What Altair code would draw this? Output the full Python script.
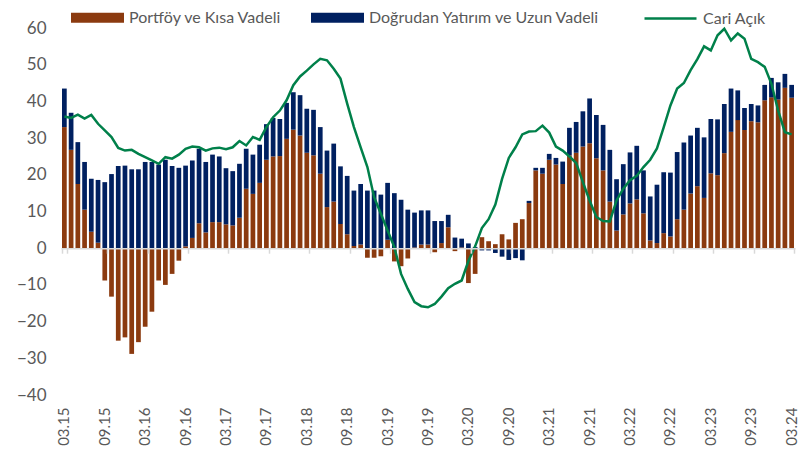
import altair as alt
import pandas as pd

# Monthly categories 03.15 ... 03.24
MONTHS = [f"{m:02d}.{y:02d}" for y in range(15, 25) for m in range(1, 13)][2:111]

TICK_LABELS = ["03.15", "09.15", "03.16", "09.16", "03.17", "09.17", "03.18",
               "09.18", "03.19", "09.19", "03.20", "09.20", "03.21", "09.21",
               "03.22", "09.22", "03.23", "09.23", "03.24"]

Y_TICKS = [-40, -30, -20, -10, 0, 10, 20, 30, 40, 50, 60]

SERIES = ["Portföy ve Kısa Vadeli", "Doğrudan Yatırım ve Uzun Vadeli"]
LINE_NAME = "Cari Açık"

PORTFOY = [
    33.0, 26.8, 17.5, 10.5, 4.5, 1.5, -8.8, -13.2, -25.2, -24.3, -28.8, -25.6,
    -21.4, -17.3, -8.8, -10.0, -7.0, -3.4, 0.5, 2.8, 6.8, 4.3, 7.1, 7.1,
    6.5, 6.2, 8.3, 16.2, 14.8, 17.8, 24.1, 25.0, 25.1, 29.8, 32.3, 30.7,
    26.0, 25.3, 20.3, 11.2, 12.7, 6.6, 3.8, 0.6, 1.0, -2.6, -2.6, -2.2,
    2.3, -3.6, -4.9, -2.8, 0.2, 1.0, 1.0, -1.1, 1.4, 5.7, -0.8, 0.2,
    -9.5, -7.0, 3.0, 1.9, 1.1, 3.8, 2.4, 6.9, 7.9, 12.3, 21.2, 20.3,
    24.1, 22.8, 17.5, 25.3, 26.0, 27.7, 28.6, 24.5, 21.2, 12.7, 4.8, 9.2,
    12.2, 13.3, 9.5, 2.1, 1.4, 4.1, 3.2, 7.9, 10.5, 14.9, 16.9, 13.7,
    20.4, 19.9, 25.9, 31.7, 34.9, 32.2, 34.6, 34.3, 40.3, 41.1, 40.5, 43.7,
    41.0,
]

DOGRUDAN = [
    10.5, 10.1, 11.4, 13.0, 14.4, 17.1, 18.0, 20.2, 22.4, 22.5, 21.5, 21.5,
    23.5, 23.5, 22.8, 24.1, 22.4, 21.9, 22.0, 21.1, 20.3, 19.2, 18.4, 17.9,
    15.3, 14.8, 14.7, 10.9, 10.7, 10.4, 9.7, 10.5, 10.1, 9.8, 10.2, 11.0,
    12.0, 12.4, 12.7, 15.4, 15.8, 15.7, 15.9, 15.1, 16.5, 15.7, 15.7, 14.6,
    15.5, 15.0, 13.2, 10.5, 9.5, 9.3, 9.3, 7.4, 6.0, 3.4, 2.9, 2.4,
    1.3, 0.3, -0.6, -0.6, -1.3, -2.3, -3.2, -2.7, -3.3, 0.6, 0.7, 1.6,
    1.6, 1.8, 6.1, 7.5, 8.4, 9.6, 12.2, 11.8, 12.4, 14.1, 14.0, 13.7,
    13.9, 14.6, 11.7, 12.0, 15.9, 16.6, 17.4, 18.3, 18.3, 15.8, 15.9, 16.5,
    14.8, 15.2, 13.4, 11.8, 8.1, 6.0, 4.7, 4.6, 4.2, 5.3, 4.7, 3.8,
    3.5,
]

CARI = [
    35.9, 35.5, 36.4, 35.3, 36.3, 33.9, 32.1, 30.3, 27.3, 26.6, 26.8, 25.7,
    24.8, 23.9, 23.0, 24.8, 24.4, 25.5, 27.1, 27.7, 27.5, 26.6, 27.2, 27.4,
    27.0, 27.5, 29.2, 28.0, 30.3, 29.5, 33.0, 35.7, 37.5, 40.3, 44.4, 46.8,
    48.4, 50.1, 51.6, 51.2, 48.9, 46.2, 39.4, 33.0, 27.5, 22.1, 13.9, 9.4,
    4.8, 0.3, -7.0, -11.1, -14.7, -15.8, -16.1, -15.2, -13.2, -10.9, -9.7, -8.8,
    -3.5, 0.5, 5.5, 7.9, 11.9, 18.9, 24.6, 27.5, 31.0, 31.8, 31.9, 33.4,
    31.5, 27.7, 26.6, 25.0, 23.2, 18.0, 13.0, 8.5, 7.4, 7.3, 13.0, 16.2,
    18.5, 19.7, 22.1, 24.1, 27.2, 32.9, 38.9, 43.5, 45.0, 48.5, 51.5, 55.0,
    53.9, 58.0, 59.8, 56.6, 58.5, 57.1, 51.6, 50.7, 49.4, 44.8, 37.5, 31.6,
    31.0,
]

n = len(MONTHS)
bars_df = pd.DataFrame({
    "month": MONTHS * 2,
    "value": PORTFOY + DOGRUDAN,
    "series": [SERIES[0]] * n + [SERIES[1]] * n,
    "ord": [0] * n + [1] * n,
})
line_df = pd.DataFrame({"month": MONTHS, "value": CARI, "series": [LINE_NAME] * n})

FONT = "Lato"
TXT = "#595959"
W, H = 734, 367

x_scale = alt.Scale(domain=MONTHS, paddingInner=0.3, paddingOuter=0.15)
y_scale = alt.Scale(domain=[-40, 60], nice=False)

y_axis = alt.Axis(title=None, values=Y_TICKS, grid=False, domain=False,
                  ticks=False, labelFontSize=17, labelColor=TXT,
                  labelPadding=15, labelFont=FONT)

bars = alt.Chart(bars_df).mark_bar().encode(
    x=alt.X("month:O", scale=x_scale, axis=alt.Axis(
        title=None, orient="bottom", offset=-H * 0.4, values=TICK_LABELS,
        labels=False, domainColor="#D9D9D9", domainWidth=1.5,
        tickColor="#D9D9D9", tickSize=5, tickWidth=1.5, tickBand="extent",
        zindex=1)),
    y=alt.Y("value:Q", scale=y_scale, stack="zero", axis=y_axis),
    color=alt.Color("series:N", scale=alt.Scale(domain=SERIES, range=["#8B3A0F", "#002060"]),
                    legend=alt.Legend(
                        title=None, orient="none", legendX=10, legendY=-37,
                        direction="horizontal",
                        symbolType="M-1,-0.19L1,-0.19L1,0.19L-1,0.19Z",
                        symbolSize=2809, symbolStrokeWidth=0, symbolOpacity=1,
                        labelFontSize=16, labelColor=TXT, labelFont=FONT,
                        labelOffset=5, columnPadding=29, labelLimit=400, padding=0)),
    order=alt.Order("ord:Q"),
)

line = alt.Chart(line_df).mark_line(strokeWidth=2.5).encode(
    x=alt.X("month:O", scale=x_scale, axis=alt.Axis(
        title=None, orient="bottom", values=TICK_LABELS, labelAngle=-90,
        domain=False, ticks=False, labelFontSize=15, labelColor=TXT,
        labelPadding=12, labelFont=FONT, labelOverlap=False)),
    y=alt.Y("value:Q", scale=y_scale, axis=y_axis),
    color=alt.Color("series:N", scale=alt.Scale(domain=[LINE_NAME], range=["#00804A"]),
                    legend=alt.Legend(
                        title=None, orient="none", legendX=582, legendY=-37,
                        symbolType="stroke", symbolSize=2704, symbolStrokeWidth=2.5,
                        labelFontSize=16, labelColor=TXT, labelFont=FONT,
                        labelOffset=5, labelLimit=400, padding=0)),
)

chart = alt.layer(bars, line).resolve_scale(color="independent").resolve_axis(
    x="independent").properties(
    width=W, height=H,
    autosize=alt.AutoSizeParams(type="none"),
    padding={"left": 53, "top": 20, "right": 8, "bottom": 52},
).configure_view(stroke=None)

chart.save("out.html", embed_options={"renderer": "svg", "actions": False})
